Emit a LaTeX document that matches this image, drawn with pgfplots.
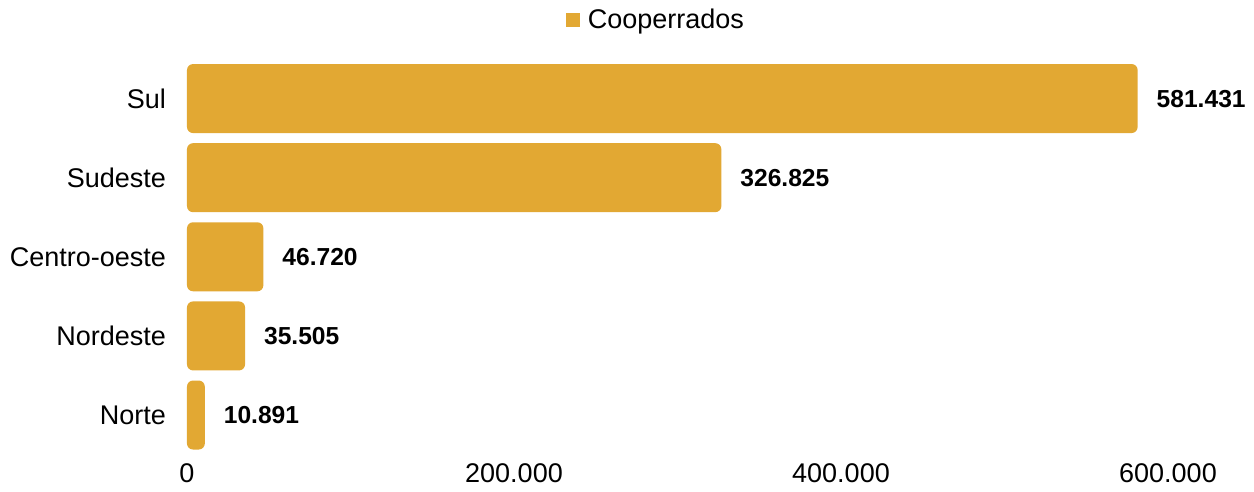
\documentclass[border=0pt]{standalone}
\usepackage{pgfplots}
\pgfplotsset{compat=1.18}
\usepackage{fontspec}
\setmainfont{Liberation Sans}
\definecolor{gold}{HTML}{E2A833}
\begin{document}
\begin{tikzpicture}
\begin{axis}[
  name=ax,
  at={(0,0)}, anchor=south west,
  scale only axis,
  width=490.5pt, height=197.8pt,
  xbar, bar width=34.5pt,
  xmin=0, xmax=600000,
  ymin=-0.5, ymax=4.5,
  ytick={0,1,2,3,4},
  yticklabels={Norte,Nordeste,Centro-oeste,Sudeste,Sul},
  xtick={0,200000,400000,600000},
  xticklabels={0,200.000,400.000,600.000},
  xticklabel style={inner sep=1pt, yshift=-3.3pt},
  tick label style={font=\fontsize{13.5}{16}\selectfont},
  yticklabel style={xshift=-7pt},
  major tick length=0pt,
  axis line style={draw=none},
  legend style={draw=none, at={(0.479,1.0986)}, anchor=center,
    font=\fontsize{13.5}{16}\selectfont, legend cell align=left,
    /tikz/every even column/.append style={column sep=4pt}},
  legend image code/.code={\fill[gold, sharp corners] (0pt,-3.5pt) rectangle (7pt,3.5pt);},
  nodes near coords,
  point meta=explicit symbolic,
  every node near coord/.append style={anchor=west, xshift=6pt,
    font=\fontsize{12.3}{14}\selectfont\bfseries, text=black},
  clip=false,
]
\addplot[fill=gold, draw=none, rounded corners=3pt] coordinates {
  (10891,0) [10.891]
  (35505,1) [35.505]
  (46720,2) [46.720]
  (326825,3) [326.825]
  (581431,4) [581.431]
};
\addlegendentry{\hspace{2pt}Cooperrados}
\end{axis}
\pgfresetboundingbox
\path[use as bounding box] (-93.5pt,-18.7pt) rectangle (533.5pt,227.3pt);
\end{tikzpicture}
\end{document}
